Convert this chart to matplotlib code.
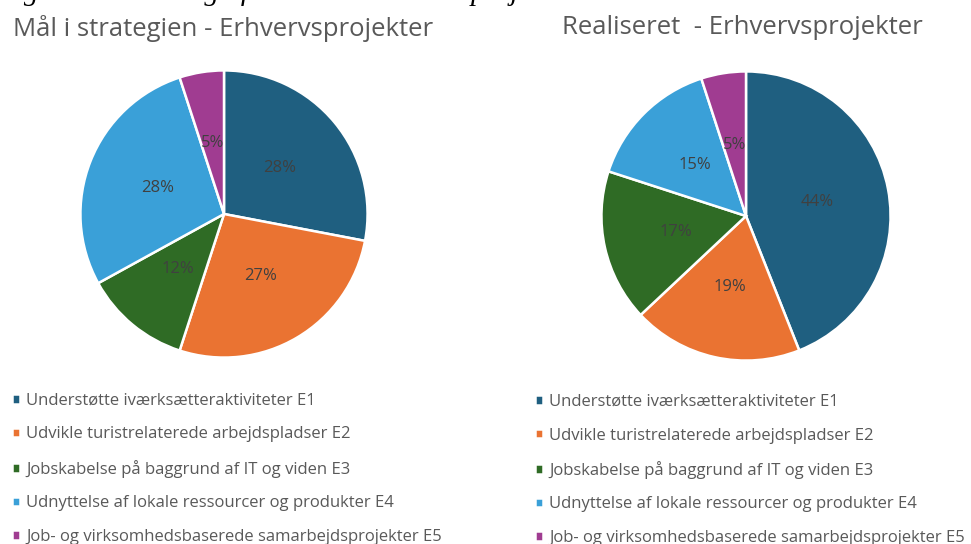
import numpy as np
import matplotlib.pyplot as plt

# data
categories = ["Understøtte iværksætteraktiviteter E1",
              "Udvikle turistrelaterede arbejdspladser E2",
              "Jobskabelse på baggrund af IT og viden E3",
              "Udnyttelse af lokale ressourcer og produkter E4",
              "Job- og virksomhedsbaserede samarbejdsprojekter E5"]
maal = [28, 27, 12, 28, 5]
realiseret = [44, 19, 17, 15, 5]
titles = ["Mål i strategien - Erhvervsprojekter", "Realiseret  - Erhvervsprojekter"]
caption = "Figur 4: Fordeling af midler til erhvervsprojekter"

colors = ["#1f5f80", "#ea7332", "#2f6b25", "#3aa0d8", "#a03c91"]

plt.rcParams['font.family'] = ['Open Sans', 'DejaVu Sans']

W, H = 971, 544
fig = plt.figure(figsize=(W/100, H/100), dpi=100)

def px_axes(cx, cy, r):
    return fig.add_axes([(cx-r)/W, (H-cy-r)/H, 2*r/W, 2*r/H])

pies = [(maal, 224, 214, 145), (realiseret, 746, 216, 146)]
axes = []
for vals, cx, cy, r in pies:
    ax = px_axes(cx, cy, r)
    wedges, texts, autotexts = ax.pie(vals, colors=colors, startangle=90, counterclock=False,
                                      autopct="%d%%", pctdistance=0.5,
                                      wedgeprops=dict(edgecolor="white", linewidth=1.8),
                                      textprops=dict(color="#404040", fontsize=12))
    ax.set_xlim(-1.01, 1.01)
    ax.set_ylim(-1.01, 1.01)
    ax.set_aspect("equal")
    axes.append((ax, wedges))

fig.text(13/W, 1-28/H, titles[0], fontsize=18.5, color="#595959", va="center", ha="left")
fig.text(562/W, 1-28/H, titles[1], fontsize=18.5, color="#595959", va="center", ha="left")

fig.text(-2/W, 1-0/H, caption, fontsize=21, style="italic", family="Liberation Serif",
         color="black", va="baseline", ha="left")

legpos = [(-3/W, 1-378/H), (520/W, 1-379/H)]
for (ax, wedges), pos in zip(axes, legpos):
    fig.legend(wedges, categories, loc="upper left", bbox_to_anchor=pos, frameon=False,
               handlelength=0.5, handleheight=0.5, handletextpad=0.35, labelspacing=1.05,
               fontsize=12, labelcolor="#595959")

fig.savefig("out.png", dpi=100)
